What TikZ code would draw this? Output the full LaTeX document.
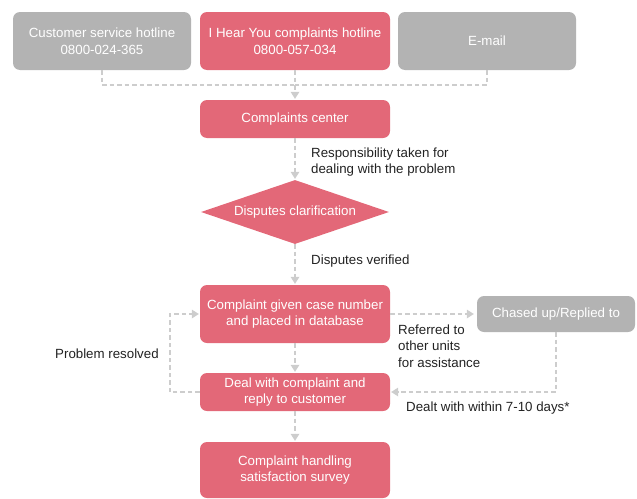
\documentclass[tikz,border=0pt]{standalone}
\usepackage{fontspec}
\setmainfont{Liberation Sans}
\usetikzlibrary{shapes.geometric,arrows.meta}
\definecolor{rose}{HTML}{E36878}
\definecolor{stone}{HTML}{B3B3B3}
\definecolor{wire}{HTML}{CDCDCD}
\definecolor{ink}{HTML}{222222}
\begin{document}
\begin{tikzpicture}[x=1pt,y=-1pt,
  every node/.style={font=\fontsize{13.3}{16.5}\selectfont},
  box/.style={rectangle, rounded corners=7pt, fill=rose, text=white, align=center, inner sep=0pt},
  greybox/.style={box, fill=stone},
  decision/.style={diamond, aspect=3, fill=rose, text=white, inner sep=0pt},
  note/.style={text=ink, align=left, anchor=west, inner sep=0pt},
  link/.style={draw=wire, line width=2.5pt, dash pattern=on 4.5pt off 3pt},
  flow/.style={link, -{Triangle[width=9pt,length=7pt,line width=0pt]}, shorten >=1pt}
]
\useasboundingbox (0,0) rectangle (637,498);

% entry channels
\node[greybox, minimum width=178pt, minimum height=58pt] (cust) at (102,41) {Customer service hotline\\0800-024-365};
\node[box, minimum width=190pt, minimum height=58pt] (ihy) at (295,41) {I Hear You complaints hotline\\0800-057-034};
\node[greybox, minimum width=178pt, minimum height=58pt] (mail) at (487,41) {E-mail};
\coordinate (join) at (295,85);

% main flow
\node[box, minimum width=190pt, minimum height=38pt] (center) at (295,119) {Complaints center};
\node[decision, minimum width=188pt, minimum height=64pt] (disp) at (295,212) {Disputes clarification};
\node[box, minimum width=190pt, minimum height=58pt] (case) at (295,314) {Complaint given case number\\and placed in database};
\node[greybox, minimum width=158pt, minimum height=36pt] (chase) at (556,314) {Chased up/Replied to};
\node[box, minimum width=190pt, minimum height=38pt] (deal) at (295,392) {Deal with complaint and\\reply to customer};
\node[box, minimum width=190pt, minimum height=56pt] (survey) at (295,470) {Complaint handling\\satisfaction survey};

% connectors
\draw[link] (cust.south) |- (join);
\draw[link] (mail.south) |- (join);
\draw[flow] (ihy.south) -- (center.north);
\draw[flow] (center.south) -- (disp.north);
\draw[flow] (disp.south) -- (case.north);
\draw[flow, shorten >=3pt] (case.east |- chase.west) -- (chase.west);
\draw[flow] (case.south) -- (deal.north);
\draw[flow] (chase.south) |- (deal.east);
\draw[flow] (deal.west) -- ++(-30,0) |- (case.west);
\draw[flow] (deal.south) -- (survey.north);

% labels
\node[note] (l1) at (311,162) {Responsibility taken for\\dealing with the problem};
\node[note] (l2) at (311,261) {Disputes verified};
\node[note] (l3) at (398,346) {Referred to\\other units\\for assistance};
\node[note] (l4) at (406,408) {Dealt with within 7-10 days*};
\node[note] (l5) at (55,354) {Problem resolved};
\end{tikzpicture}
\end{document}
